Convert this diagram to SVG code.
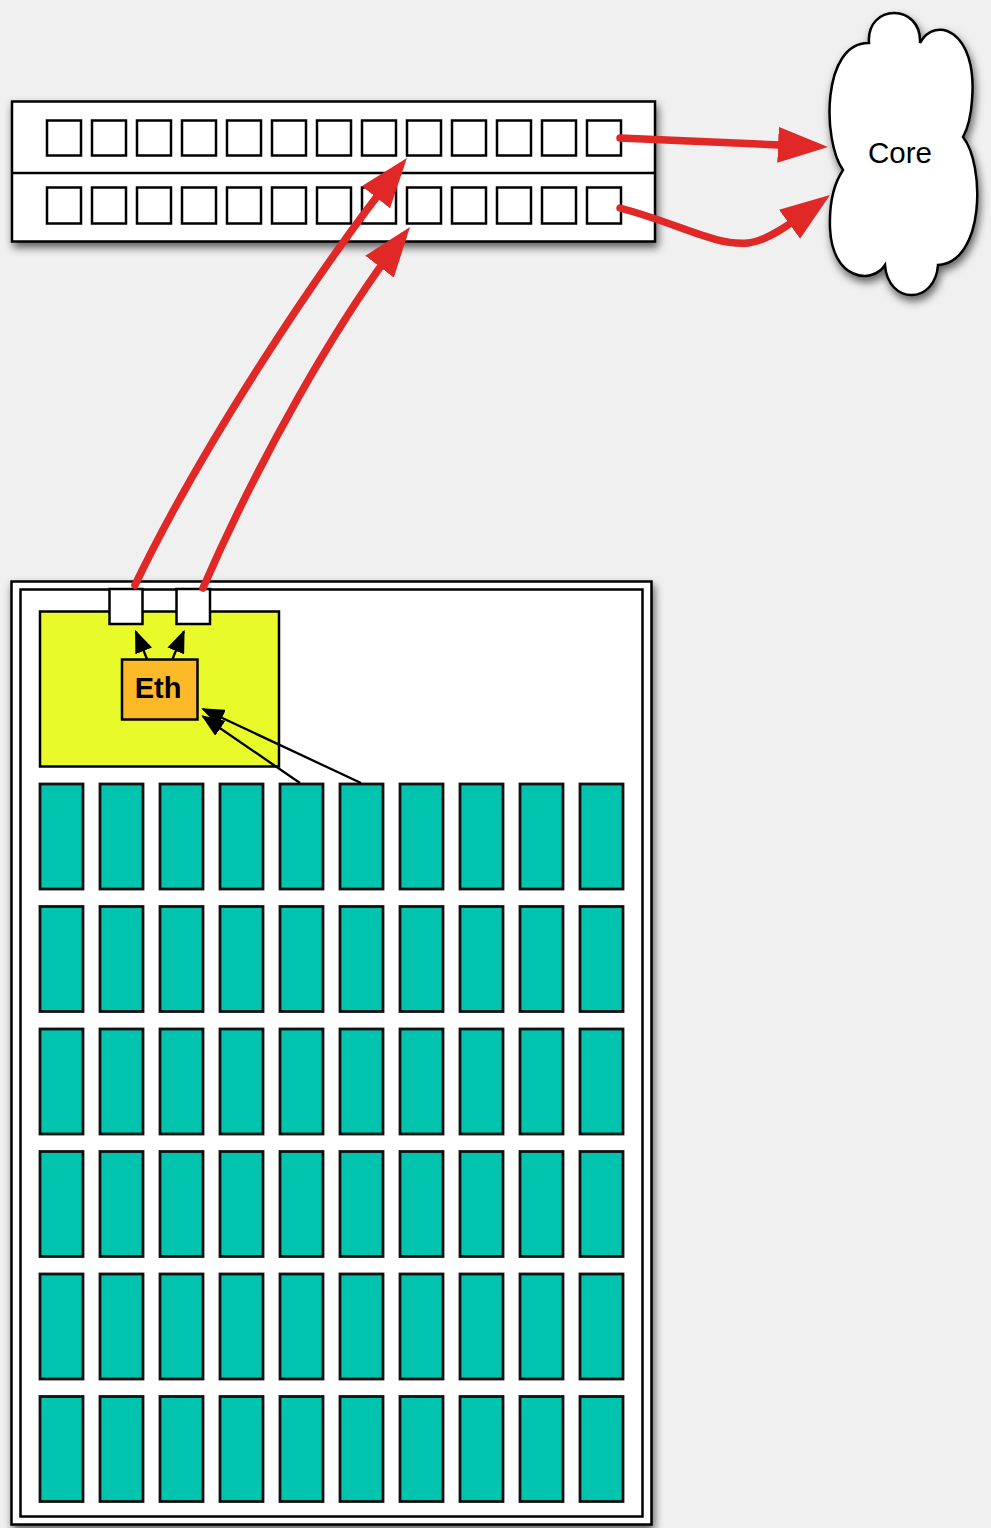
<svg xmlns="http://www.w3.org/2000/svg" width="991" height="1528" viewBox="0 0 991 1528">
<style>
.ln{stroke:#000;stroke-width:2.5;}
.port{fill:#fff;stroke:#000;stroke-width:2.5;}
.cell{fill:#00c4ad;stroke:#111;stroke-width:2.8;}
.red{fill:none;stroke:#e02826;stroke-width:7.5;stroke-linecap:round;}
.blk{fill:none;stroke:#000;stroke-width:2.3;}
</style>
<defs>
<filter id="sh" x="-10%" y="-10%" width="130%" height="130%">
<feDropShadow dx="2" dy="5" stdDeviation="4.5" flood-color="#000" flood-opacity="0.6"/>
</filter>
<marker id="rh" viewBox="0 0 50 36" markerWidth="50" markerHeight="36" refX="38" refY="18" orient="auto" markerUnits="userSpaceOnUse">
<path d="M0,0 L50,18 L0,36 Z" fill="#e02826"/>
</marker>
<marker id="bh" viewBox="0 0 23 18" markerWidth="23" markerHeight="18" refX="21" refY="9" orient="auto" markerUnits="userSpaceOnUse">
<path d="M0,0 L23,9 L0,18 Z" fill="#000"/>
</marker>
</defs>
<rect x="0" y="0" width="991" height="1528" fill="#f0f0f0"/>

<g id="switch">
<g filter="url(#sh)"><rect x="12" y="101.5" width="643" height="140" fill="#fff" class="ln"/></g>
<line x1="12" y1="173" x2="655" y2="173" class="ln"/>
<g id="ports-top">
<rect x="47" y="120.5" width="34" height="35" class="port"/>
<rect x="92" y="120.5" width="34" height="35" class="port"/>
<rect x="137" y="120.5" width="34" height="35" class="port"/>
<rect x="182" y="120.5" width="34" height="35" class="port"/>
<rect x="227" y="120.5" width="34" height="35" class="port"/>
<rect x="272" y="120.5" width="34" height="35" class="port"/>
<rect x="317" y="120.5" width="34" height="35" class="port"/>
<rect x="362" y="120.5" width="34" height="35" class="port"/>
<rect x="407" y="120.5" width="34" height="35" class="port"/>
<rect x="452" y="120.5" width="34" height="35" class="port"/>
<rect x="497" y="120.5" width="34" height="35" class="port"/>
<rect x="542" y="120.5" width="34" height="35" class="port"/>
<rect x="587" y="120.5" width="34" height="35" class="port"/>
</g>
<g id="ports-bottom">
<rect x="47" y="187.5" width="34" height="36" class="port"/>
<rect x="92" y="187.5" width="34" height="36" class="port"/>
<rect x="137" y="187.5" width="34" height="36" class="port"/>
<rect x="182" y="187.5" width="34" height="36" class="port"/>
<rect x="227" y="187.5" width="34" height="36" class="port"/>
<rect x="272" y="187.5" width="34" height="36" class="port"/>
<rect x="317" y="187.5" width="34" height="36" class="port"/>
<rect x="362" y="187.5" width="34" height="36" class="port"/>
<rect x="407" y="187.5" width="34" height="36" class="port"/>
<rect x="452" y="187.5" width="34" height="36" class="port"/>
<rect x="497" y="187.5" width="34" height="36" class="port"/>
<rect x="542" y="187.5" width="34" height="36" class="port"/>
<rect x="587" y="187.5" width="34" height="36" class="port"/>
</g>
</g>

<g id="core">
<path filter="url(#sh)" fill="#fff" class="ln" d="M869,43 C866,3 922,3 920,43 C935,15 978,30 972,100 C971,115 968,128 963,137 C985,165 985,262 938,265 C935,305 888,305 885,265 C872,285 832,280 830,228 C829,200 835,182 843,170 C822,140 822,42 869,43 Z"/>
<text x="900" y="163" text-anchor="middle" font-family="Liberation Sans, Arial, sans-serif" font-size="29.5" fill="#000">Core</text>
</g>

<g id="server">
<g filter="url(#sh)"><rect x="11.5" y="581.5" width="640" height="943" fill="#fff" class="ln"/></g>
<rect x="20.5" y="589.5" width="622" height="927" fill="#fff" class="ln"/>
<g id="nic">
<rect x="40" y="611.5" width="239" height="155" fill="#e8fa2a" class="ln"/>
<rect x="109.5" y="589" width="33" height="35" class="port"/>
<rect x="176.5" y="589" width="33.5" height="35" class="port"/>
<g id="eth">
<rect x="122" y="659.5" width="75.5" height="60" fill="#fdb927" class="ln"/>
<text x="158" y="698" text-anchor="middle" font-family="Liberation Sans, Arial, sans-serif" font-size="29" font-weight="bold" fill="#000">Eth</text>
</g>
</g>
<g id="cells">
<rect x="40" y="784" width="43" height="105" class="cell"/><rect x="100" y="784" width="43" height="105" class="cell"/><rect x="160" y="784" width="43" height="105" class="cell"/><rect x="220" y="784" width="43" height="105" class="cell"/><rect x="280" y="784" width="43" height="105" class="cell"/><rect x="340" y="784" width="43" height="105" class="cell"/><rect x="400" y="784" width="43" height="105" class="cell"/><rect x="460" y="784" width="43" height="105" class="cell"/><rect x="520" y="784" width="43" height="105" class="cell"/><rect x="580" y="784" width="43" height="105" class="cell"/>
<rect x="40" y="906.5" width="43" height="105" class="cell"/><rect x="100" y="906.5" width="43" height="105" class="cell"/><rect x="160" y="906.5" width="43" height="105" class="cell"/><rect x="220" y="906.5" width="43" height="105" class="cell"/><rect x="280" y="906.5" width="43" height="105" class="cell"/><rect x="340" y="906.5" width="43" height="105" class="cell"/><rect x="400" y="906.5" width="43" height="105" class="cell"/><rect x="460" y="906.5" width="43" height="105" class="cell"/><rect x="520" y="906.5" width="43" height="105" class="cell"/><rect x="580" y="906.5" width="43" height="105" class="cell"/>
<rect x="40" y="1029" width="43" height="105" class="cell"/><rect x="100" y="1029" width="43" height="105" class="cell"/><rect x="160" y="1029" width="43" height="105" class="cell"/><rect x="220" y="1029" width="43" height="105" class="cell"/><rect x="280" y="1029" width="43" height="105" class="cell"/><rect x="340" y="1029" width="43" height="105" class="cell"/><rect x="400" y="1029" width="43" height="105" class="cell"/><rect x="460" y="1029" width="43" height="105" class="cell"/><rect x="520" y="1029" width="43" height="105" class="cell"/><rect x="580" y="1029" width="43" height="105" class="cell"/>
<rect x="40" y="1151.5" width="43" height="105" class="cell"/><rect x="100" y="1151.5" width="43" height="105" class="cell"/><rect x="160" y="1151.5" width="43" height="105" class="cell"/><rect x="220" y="1151.5" width="43" height="105" class="cell"/><rect x="280" y="1151.5" width="43" height="105" class="cell"/><rect x="340" y="1151.5" width="43" height="105" class="cell"/><rect x="400" y="1151.5" width="43" height="105" class="cell"/><rect x="460" y="1151.5" width="43" height="105" class="cell"/><rect x="520" y="1151.5" width="43" height="105" class="cell"/><rect x="580" y="1151.5" width="43" height="105" class="cell"/>
<rect x="40" y="1274" width="43" height="105" class="cell"/><rect x="100" y="1274" width="43" height="105" class="cell"/><rect x="160" y="1274" width="43" height="105" class="cell"/><rect x="220" y="1274" width="43" height="105" class="cell"/><rect x="280" y="1274" width="43" height="105" class="cell"/><rect x="340" y="1274" width="43" height="105" class="cell"/><rect x="400" y="1274" width="43" height="105" class="cell"/><rect x="460" y="1274" width="43" height="105" class="cell"/><rect x="520" y="1274" width="43" height="105" class="cell"/><rect x="580" y="1274" width="43" height="105" class="cell"/>
<rect x="40" y="1396.5" width="43" height="105" class="cell"/><rect x="100" y="1396.5" width="43" height="105" class="cell"/><rect x="160" y="1396.5" width="43" height="105" class="cell"/><rect x="220" y="1396.5" width="43" height="105" class="cell"/><rect x="280" y="1396.5" width="43" height="105" class="cell"/><rect x="340" y="1396.5" width="43" height="105" class="cell"/><rect x="400" y="1396.5" width="43" height="105" class="cell"/><rect x="460" y="1396.5" width="43" height="105" class="cell"/><rect x="520" y="1396.5" width="43" height="105" class="cell"/><rect x="580" y="1396.5" width="43" height="105" class="cell"/>
</g>
</g>

<g id="connectors">
<path class="blk" marker-end="url(#bh)" d="M147,659 L135.8,631.5"/>
<path class="blk" marker-end="url(#bh)" d="M172.5,659 L183.8,631.5"/>
<path class="blk" marker-end="url(#bh)" d="M361,783 L203,709"/>
<path class="blk" marker-end="url(#bh)" d="M300,783 L203,716.5"/>
<path class="red" marker-end="url(#rh)" d="M135,585 C200,450 312.6,277.2 399.5,167.4"/>
<path class="red" marker-end="url(#rh)" d="M203,588 C258.9,459.6 335.6,323.7 402.7,236.5"/>
<path class="red" marker-end="url(#rh)" d="M620,138 L816,146.5"/>
<path class="red" marker-end="url(#rh)" d="M620,208 C680,224 715,246 748,243 C770,241 800,216.7 820.3,202"/>
</g>
</svg>
